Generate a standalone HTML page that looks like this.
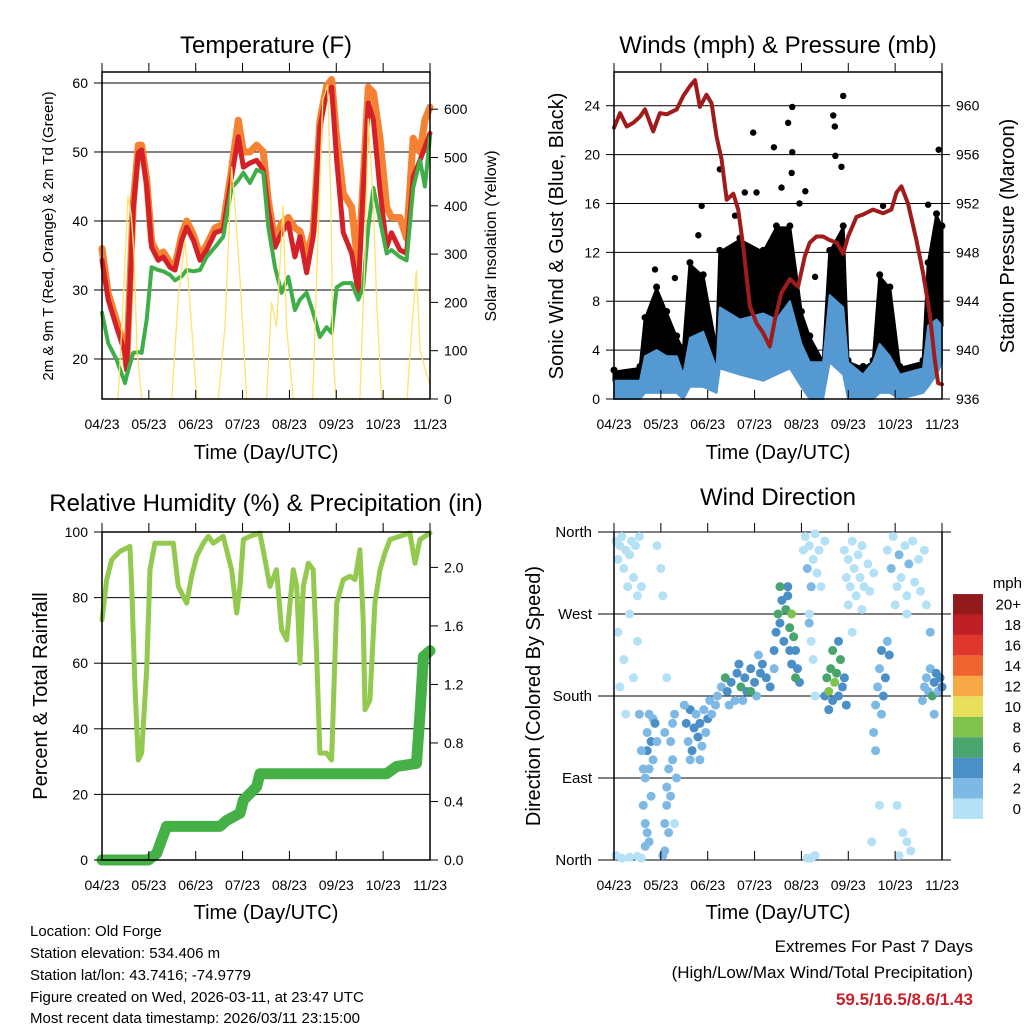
<!DOCTYPE html>
<html><head><meta charset="utf-8"><style>
html,body{margin:0;padding:0;background:#fff;}
svg{display:block;font-family:"Liberation Sans",sans-serif;}
</style></head><body>
<svg id="fig" width="1024" height="1024" viewBox="0 0 1024 1024">
<rect x="0" y="0" width="1024" height="1024" fill="#fff"/>
<text x="266" y="53" font-size="24" text-anchor="middle">Temperature (F)</text>
<text x="778" y="53" font-size="24" text-anchor="middle">Winds (mph) &amp; Pressure (mb)</text>
<text x="266" y="511" font-size="24" text-anchor="middle">Relative Humidity (%) &amp; Precipitation (in)</text>
<text x="778" y="505" font-size="24" text-anchor="middle">Wind Direction</text>
<text transform="translate(53,236) rotate(-90)" font-size="15" text-anchor="middle">2m &amp; 9m T (Red, Orange) &amp; 2m Td (Green)</text>
<text transform="translate(496,236) rotate(-90)" font-size="16" text-anchor="middle">Solar Insolation (Yellow)</text>
<text transform="translate(563,236) rotate(-90)" font-size="20" text-anchor="middle">Sonic Wind &amp; Gust (Blue, Black)</text>
<text transform="translate(1014,236) rotate(-90)" font-size="20" text-anchor="middle">Station Pressure (Maroon)</text>
<text transform="translate(47,696) rotate(-90)" font-size="20" text-anchor="middle">Percent &amp; Total Rainfall</text>
<text transform="translate(540,696) rotate(-90)" font-size="20" text-anchor="middle">Direction (Colored By Speed)</text>
<text x="266" y="459" font-size="20" text-anchor="middle">Time (Day/UTC)</text>
<text x="778" y="459" font-size="20" text-anchor="middle">Time (Day/UTC)</text>
<text x="266" y="919" font-size="20" text-anchor="middle">Time (Day/UTC)</text>
<text x="778" y="919" font-size="20" text-anchor="middle">Time (Day/UTC)</text>
<g font-size="15">
<text x="30" y="936">Location: Old Forge</text>
<text x="30" y="958">Station elevation: 534.406 m</text>
<text x="30" y="980">Station lat/lon: 43.7416; -74.9779</text>
<text x="30" y="1002">Figure created on Wed, 2026-03-11, at 23:47 UTC</text>
<text x="30" y="1023">Most recent data timestamp: 2026/03/11 23:15:00</text>
</g>
<g font-size="17" text-anchor="end">
<text x="973" y="952">Extremes For Past 7 Days</text>
<text x="973" y="978">(High/Low/Max Wind/Total Precipitation)</text>
<text x="973" y="1005" font-weight="bold" fill="#c8202a">59.5/16.5/8.6/1.43</text>
</g>
<g id="layer"></g>
</svg>
<script>
// ---------- data ----------
const xTickLabels = ["04/23","05/23","06/23","07/23","08/23","09/23","10/23","11/23"];
const tempHours = [0,3.2,7.5,11.8,12.6,16,18.6,20.3,22.9,25.4,28.8,31.4,34.8,37.4,40.8,43.4,46.8,50.2,53.6,57.9,62.1,66.4,69.8,72.4,75.8,79.2,82.6,85.2,88.6,92,95.4,98.8,101.4,104.8,108.2,111.6,115,117.6,120.2,123.6,127.9,131.3,133.8,136.4,139,142.4,145.8,148.3,152.6,156,159.4,162.9,165.4,168];
const temp2m = [34.3,28.6,24.6,20.9,18.4,41.6,49.9,50.3,45,36.2,34.3,34.8,33.3,32.9,37.2,39.1,37.2,34.3,35.8,38.3,38.7,46.4,52.2,47.8,48.4,48.8,47.4,41.6,36.2,38.3,39.7,34.8,37.7,32.5,37.7,53.6,58.6,59.4,48.8,38.3,35.3,29.6,44.8,57.1,54.6,44.5,36.2,38.3,35.8,35.3,46.4,48.8,50.7,52.7];
const temp9m = [36,29.5,25.5,21.5,19,42.5,51,51,46,37,35,35.5,34,33.5,38,40,38,35,36.5,39,39.5,47.5,54.6,50,50,51,50,43,37,39.7,40.5,39,38.5,34.8,38.5,54.5,59.5,60.5,52,44,42,33,46,59.4,58.6,52,42,40.5,40.5,37.5,52,50,54.6,56.5];
const dewpoint = [26.7,22.3,19.9,16.5,17.5,20.9,21,20.9,25.7,33.3,32.9,32.7,32.2,31.4,32,32.9,32.7,32.9,34.8,36.2,37.7,44.8,45.9,47,45.5,47.4,47,39.1,33.3,29.6,31.9,27.1,28.6,29.6,26.7,23.2,24.6,23.8,30.4,31,31,28.6,30.4,39.1,44.8,40.1,35.3,35.8,34.8,34.3,44.8,48.8,45,52.2];
const solarHours = [0,8.2,10.2,13.3,15,16.4,18,20.3,22.7,35.7,39.1,42.5,45,48.5,59.6,63,66.4,68.1,70.7,74.1,84.3,86.8,89.4,92.8,94.5,98,107.9,111.3,113.1,115.6,117.3,118.2,119.9,132.1,134.7,136.4,139,140.7,143.2,156.2,158.8,161,163,165.6,168];
const solarValues = [0,0,150,420,380,300,100,0,0,0,210,328,200,0,0,150,480,400,250,0,0,200,150,400,150,0,0,420,620,650,400,100,0,0,300,580,400,200,0,0,150,266,100,60,30];
const windHours = [0,13.3,15.9,21.8,27,32.1,35.5,38.9,45.7,52.5,54.2,64.5,76.4,83.2,90.1,96,100.3,107.1,110.5,117.4,119.9,127.6,132.7,136.1,141.3,146.4,158.3,160.9,165.2,168];
const sonicHigh = [1.5,1.5,3.5,4,3.5,3.5,2,5,5.5,2.5,7.5,6.5,7,6.5,8,4.5,3,3,8.5,7.5,3,2,3,4.5,3.5,2,2.5,6,6.5,6];
const sonicLow = [0,0,0.5,0.5,0.5,0.5,0,1,1,0.5,2.5,2,1.5,2,2.5,1,0,0,3,2,0,0,0,0.5,0.5,0,0.5,1,2,3];
const gustHigh = [2.2,2.5,6.5,9,7,5,4,11,10,4,12,13,12,14,14,7,5,3,12,14,3,2.5,3,10,9,2.5,3,11,15,14];
const gustOutlierHours = [71.3,81.9,89.2,91.3,91.3,112.3,113.1,117.4,113.4,166.3,44.9,67,73,85.8,91,54.2,116.5,21,31.2,43.2,137.8,160.9,95,103,98,62];
const gustOutlierValues = [21.8,20.6,22.6,23.9,20.2,23.2,22.3,24.8,19.9,20.4,15.8,16.9,16.9,17.3,18.5,18.8,19,10.6,9.9,13.4,15.8,15.9,16,10,17,15];
const pressHours = [0,3.1,6.5,9.9,13.3,15.9,20.1,23.5,27,32.1,35.5,38.9,41.5,44,47.4,50,52.5,55.1,57.7,61.1,63.6,66.2,69.6,73,76.4,79.8,82.4,85.8,90.1,94.3,97.8,100.3,103.7,107.1,110.5,114,117.4,119.9,124.2,127.6,132.7,137.8,142.1,144.7,147.2,150.6,154.9,158.3,161.7,164.3,166,168];
const pressure = [958.2,959.4,958.3,958.6,959.1,959.7,957.9,959.4,959.3,959.7,960.8,961.6,962.1,959.9,960.9,960.2,957.5,955.6,952.3,952.8,951.5,948.5,943.6,942.2,941.4,940.3,942.5,944.7,945.8,945.2,947.7,948.8,949.3,949.3,949,948.8,947.9,949.3,950.9,951.1,951.5,951.2,951.5,952.9,953.4,952,949,946.3,943,939.2,937.3,937.2];
const rhHours = [0,2.4,5,9.2,12.6,14.3,15.2,16.9,18.6,20.3,22.9,24.6,27.1,31.4,36.5,39.1,43.4,45.9,48.5,51.9,54.5,57,62.1,66.4,69,70.7,72.4,75.8,80.9,83.5,86,89.4,92,94.6,96.3,98,99.7,101.4,103.1,105.7,108.2,109.9,111.6,115,117.6,120.2,123.6,127,129.6,132.1,133.8,134.7,137.2,139.8,142.4,144.9,147.5,157.7,160.3,162.9,168];
const rhValues = [73.2,85.5,91.6,94.1,95.1,95.6,83.4,52.9,30.5,32.6,58,88.5,96.6,96.6,96.6,83.4,78.3,86.5,92.6,96.6,98.7,96.6,98.7,88.5,75.3,83.4,97.7,98.7,99.7,91.6,83.4,88.5,70.2,67.1,78.3,88.5,83.4,60,83.4,90.5,88.5,63.1,32.6,32.6,30.5,78.3,85.5,86.5,85.5,94.6,73.2,45.8,48.8,78.3,88.5,93.6,97.7,99.7,90.5,97.7,99.7];
const precipHours = [0,23.7,28,33.1,60.4,63.8,70.7,72.4,79.2,80.9,145.8,150.9,161.1,162.9,164.6,168];
const precipValues = [0,0,0.045,0.23,0.23,0.27,0.32,0.41,0.5,0.59,0.59,0.64,0.66,1.0,1.39,1.43];
const dirHours = [1,2,3,4,5,6,7,8,9,10,11,12,13,2,5,8,10,3,12,1,4,8,12,14,6,14,22,24,25,27,
15,16,16,17,17,18,18,19,19,20,20,21,18,16,17,22,13,14,15,
26,26,27,27,28,28,29,29,30,30,31,32,25,26,31,
37,38,39,40,41,42,43,44,45,46,47,48,39,44,36,49,50,
53,55,57,58,60,62,63,65,67,68,70,72,73,75,76,78,80,82,64,70,59,66,74,52,
82,83,84,85,86,87,88,89,90,91,92,93,94,95,93,91,90,89,85,
97,98,99,100,101,102,103,104,105,106,108,100,101,102,103,99,101,103,100,
108,109,110,111,112,113,114,115,116,117,118,119,112,115,110,
118,119,120,121,122,123,124,125,126,127,128,130,131,133,120,127,122,
133,134,135,136,137,138,139,140,137,134,141,132,136,
140,142,143,145,146,147,149,150,151,153,154,156,157,159,144,150,145,148,152,150,146,
158,159,160,161,162,163,164,165,166,167,168,162,160,164];
const dirDegrees = [350,330,345,355,320,340,300,335,350,310,345,290,355,250,220,270,200,190,240,5,2,3,4,2,160,300,345,320,290,200,
60,40,90,120,140,100,160,130,70,110,155,150,20,15,30,130,160,120,100,
10,40,60,80,30,100,130,70,150,110,160,90,5,140,40,
150,130,165,120,145,160,135,150,125,165,140,155,110,110,170,175,160,
180,190,200,185,195,175,205,190,200,185,210,195,180,205,215,200,190,210,215,185,170,175,225,170,
230,250,270,260,285,240,275,290,255,270,245,230,210,195,200,215,230,300,300,
340,355,320,345,300,330,358,315,340,300,350,270,240,220,180,2,2,5,260,
180,200,185,210,175,195,205,180,220,190,200,170,230,240,165,
340,310,330,300,350,320,290,335,310,345,300,325,295,315,280,275,250,
140,170,190,210,230,180,200,240,160,120,225,20,60,
340,320,355,300,335,310,345,290,325,350,305,330,295,340,280,270,60,30,10,20,5,
175,190,200,185,210,180,195,205,185,200,190,250,280,160];
const dirSpeeds = [1,1,0,1,1,0,1,1,0,1,1,1,0,1,0,1,1,1,0,1,1,0,1,1,1,1,1,1,1,1,
3,3,3,4,3,2,3,4,3,3,3,4,2,2,3,2,2,2,3,
2,2,3,2,2,2,3,2,2,3,2,2,2,2,1,
4,3,4,4,4,3,4,4,3,3,3,4,2,3,2,3,2,
3,3,6,4,4,3,4,6,4,4,4,4,3,4,4,4,4,3,4,6,2,3,2,2,
4,4,6,4,4,4,6,4,6,8,6,4,4,4,6,4,4,4,6,
1,1,2,1,2,1,1,1,1,1,1,1,1,1,1,1,1,1,2,
4,6,8,6,4,8,6,4,6,4,4,4,6,4,4,
1,1,0,1,1,1,0,1,1,1,1,1,1,1,1,1,1,
2,2,3,3,4,4,4,3,2,2,4,1,1,
1,2,1,1,2,1,1,1,2,1,1,1,1,1,1,1,1,1,1,1,1,
3,3,2,3,3,6,4,4,3,4,4,2,1,2];
const speedClassLabels = ["0","2","4","6","8","10","12","14","16","18","20+"];
const speedClassColors = ["#b5e1f7","#7db9e4","#4a8fc7","#48a56d","#80c24c","#e8e05a","#f6a846","#ef632f","#e0362b","#bf1e24","#931a1b"];
const tempTicks = [20,30,40,50,60];
const solarTicks = [0,100,200,300,400,500,600];
const windTicks = [0,4,8,12,16,20,24];
const pressTicks = [936,940,944,948,952,956,960];
const rhTicks = [0,20,40,60,80,100];
const precipTicks = [0.0,0.4,0.8,1.2,1.6,2.0];
const dirTicks = [0,90,180,270,360];
const dirTickLabels = ["North","East","South","West","North"];

// ---------- scales ----------
const NS = "http://www.w3.org/2000/svg";
const layer = document.getElementById('layer');
function mk(tag, attrs, parent){const e=document.createElementNS(NS,tag);for(const k in attrs)e.setAttribute(k,attrs[k]);(parent||layer).appendChild(e);return e;}
const xL = h => 102 + h/168*328;
const xR = h => 614 + h/168*328;
const yTemp = v => 399 - (v-14.2)*6.9;
const ySolar = s => 399 - s*0.483;
const yWind = v => 399 - v*12.22;
const yPress = p => 399 - (p-936)*12.22;
const yRH = v => 860 - v*3.28;
const yPrecip = v => 860 - v*146.3;
const yDir = d => 860 - d/360*328;
function pts(xs, ys, fx, fy){return xs.map((h,i)=>fx(h).toFixed(1)+","+fy(ys[i]).toFixed(1)).join(" ");}

// ---------- gridlines ----------
function hgrid(ticks, fy, x0, x1, name){ticks.forEach(t=>{const l=mk('line',{x1:x0,x2:x1,y1:fy(t),y2:fy(t),stroke:'#000','stroke-width':1});

});}
hgrid(tempTicks, yTemp, 102, 430, 'temperature-gridline');
hgrid(windTicks.slice(1), yWind, 614, 942, 'wind-gridline');
hgrid(rhTicks.slice(1,5), yRH, 102, 430, 'humidity-gridline');
hgrid(dirTicks, yDir, 606, 951, 'direction-gridline');

// ---------- panel 1: temperature ----------
[[temp9m,'#f58232',7,'temperature-9m-line'],[temp2m,'#d42027',5,'temperature-2m-line'],[dewpoint,'#3fae49',4,'dewpoint-line']].forEach(s=>{
const l=mk('polyline',{points:pts(tempHours,s[0],xL,yTemp),fill:'none',stroke:s[1],'stroke-width':s[2],'stroke-linejoin':'round','stroke-linecap':'round'});

});
const sol=mk('polyline',{points:pts(solarHours,solarValues,xL,ySolar),fill:'none',stroke:'#fce36a','stroke-width':1.3,'stroke-linejoin':'round'});



// ---------- panel 2: winds ----------
const gb=mk('polygon',{points:pts(windHours,gustHigh,xR,yWind)+" "+pts(windHours.slice().reverse(),sonicHigh.slice().reverse(),xR,yWind),fill:'#000',stroke:'#000','stroke-width':3,'stroke-linejoin':'round'});


windHours.forEach((h,i)=>{const c=mk('circle',{cx:xR(h),cy:yWind(gustHigh[i])-2,r:3.5,fill:'#000'});

});
gustOutlierHours.forEach((h,i)=>{const c=mk('circle',{cx:xR(h),cy:yWind(gustOutlierValues[i]),r:3.2,fill:'#000'});

});
const sb=mk('polygon',{points:pts(windHours,sonicHigh,xR,yWind)+" "+pts(windHours.slice().reverse(),sonicLow.slice().reverse(),xR,yWind),fill:'#5599d2',stroke:'#5599d2','stroke-width':2,'stroke-linejoin':'round'});


const pl=mk('polyline',{points:pts(pressHours,pressure,xR,yPress),fill:'none',stroke:'#a01c1c','stroke-width':4,'stroke-linejoin':'round','stroke-linecap':'round'});



// ---------- panel 3: humidity ----------
const rl=mk('polyline',{points:pts(rhHours,rhValues,xL,yRH),fill:'none',stroke:'#92c94e','stroke-width':5,'stroke-linejoin':'round','stroke-linecap':'round'});


const prl=mk('polyline',{points:pts(precipHours,precipValues,xL,yPrecip),fill:'none',stroke:'#45b046','stroke-width':11,'stroke-linejoin':'round','stroke-linecap':'round'});



// ---------- panel 4: direction ----------
dirHours.forEach((h,i)=>{const k=Math.min(10,Math.floor(dirSpeeds[i]/2));
const c=mk('circle',{cx:xR(h),cy:yDir(dirDegrees[i]),r:4.5,fill:speedClassColors[k]});

});
speedClassColors.forEach((col,i)=>{const y=819-(i+1)*20.45;
const r=mk('rect',{x:953,y:y,width:30,height:20.45,fill:col});


const t=mk('text',{x:1021,y:y+15.5,'font-size':15,'text-anchor':'end'});t.textContent=speedClassLabels[i];

});
const mph=mk('text',{x:1022,y:588,'font-size':15,'text-anchor':'end'});mph.textContent='mph';



// ---------- frames, ticks, labels ----------
function frame(x0,y0,x1,y1,name,sides){const d=sides==='lr'?`M${x0},${y0}V${y1}M${x1},${y0}V${y1}`:`M${x0},${y0}H${x1}V${y1}H${x0}Z`;
const f=mk('path',{d:d,fill:'none',stroke:'#000','stroke-width':1.5});

}
function xticks(x0,y0,y1,fx,name){xTickLabels.forEach((lab,k)=>{const x=fx(k*24);
const t=mk('path',{d:`M${x},${y0}v-9M${x},${y1}v-9`,stroke:'#000','stroke-width':1});


const tx=mk('text',{x:x,y:y1+30,'font-size':14,'text-anchor':'middle'});tx.textContent=lab;

});}
function yticks(ticks,fy,x,side,fmt,name,fs){ticks.forEach(v=>{const y=fy(v);
const t=mk('line',{x1:x,x2:x+(side<0?-8:8),y1:y,y2:y,stroke:'#000','stroke-width':1});


const tx=mk('text',{x:x+(side<0?-14:14),y:y+5,'font-size':fs||14,'text-anchor':side<0?'end':'start'});tx.textContent=fmt(v);

});}
frame(102,72,430,399,'temperature-frame');
frame(614,72,942,399,'winds-frame');
frame(102,532,430,860,'humidity-frame');
frame(614,532,942,860,'direction-frame','lr');
xticks(102,72,399,xL,'temperature-x');
xticks(614,72,399,xR,'winds-x');
xticks(102,532,860,xL,'humidity-x');
xticks(614,532,860,xR,'direction-x');
yticks(tempTicks,yTemp,102,-1,v=>v,'temperature-y');
yticks(solarTicks,ySolar,430,1,v=>v,'solar-y');
yticks(windTicks,yWind,614,-1,v=>v,'wind-y');
yticks(pressTicks,yPress,942,1,v=>v,'pressure-y');
yticks(rhTicks,yRH,102,-1,v=>v,'humidity-y');
yticks(precipTicks,yPrecip,430,1,v=>v.toFixed(1),'precip-y');
yticks(dirTicks,yDir,606,-1,(v)=>dirTickLabels[dirTicks.indexOf(v)],'direction-y',15);
</script>
</body></html>
